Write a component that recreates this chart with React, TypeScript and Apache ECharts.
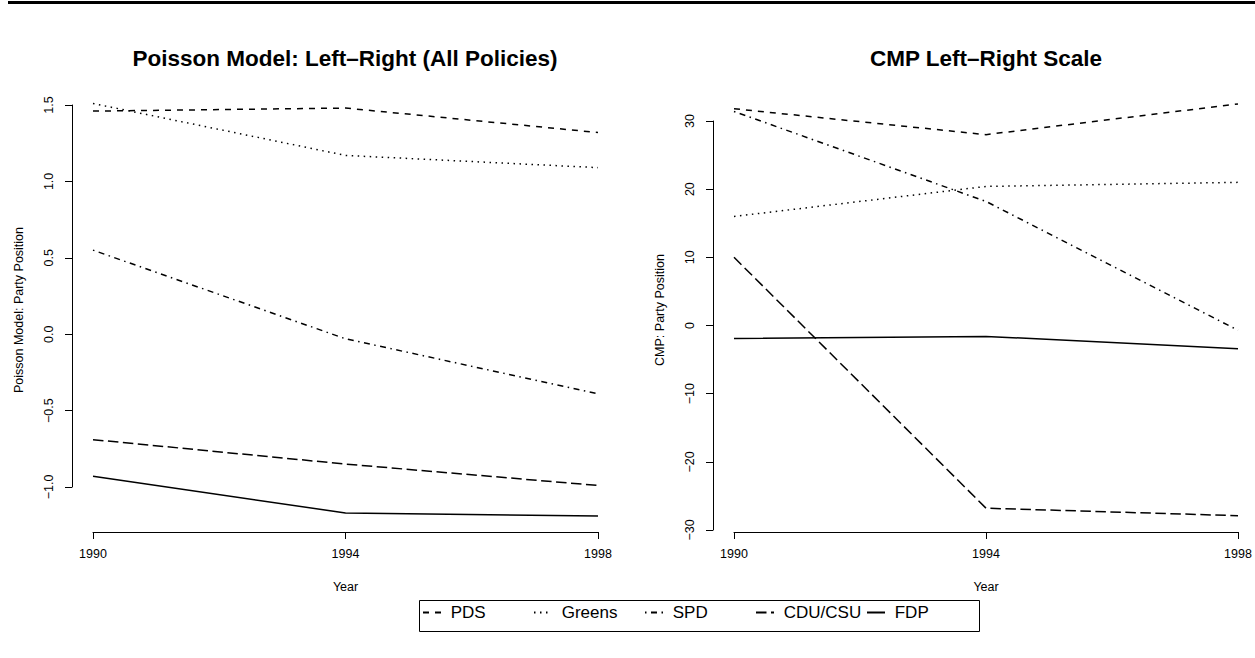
import React, { useEffect, useRef } from "react";
import * as echarts from "echarts";

const years = [1990, 1994, 1998];
const parties = ["PDS", "Greens", "SPD", "CDU/CSU", "FDP"];

const poissonPDS = [1.46, 1.48, 1.32];
const poissonGreens = [1.51, 1.17, 1.09];
const poissonSPD = [0.55, -0.03, -0.39];
const poissonCDU = [-0.69, -0.85, -0.99];
const poissonFDP = [-0.93, -1.17, -1.19];

const cmpPDS = [31.8, 28.0, 32.5];
const cmpGreens = [16.0, 20.4, 21.0];
const cmpSPD = [31.4, 18.2, -0.7];
const cmpCDU = [10.0, -26.8, -27.9];
const cmpFDP = [-1.9, -1.6, -3.4];

const poissonSeries = [poissonPDS, poissonGreens, poissonSPD, poissonCDU, poissonFDP];
const cmpSeries = [cmpPDS, cmpGreens, cmpSPD, cmpCDU, cmpFDP];

const titles = ["Poisson Model: Left\u2013Right (All Policies)", "CMP Left\u2013Right Scale"];
const yNames = ["Poisson Model: Party Position", "CMP: Party Position"];
const xName = "Year";

const dashes: any[] = [[6, 6], [1.5, 4.5], [1.5, 4.5, 6, 4.5], [10.5, 4.5], "solid"];

const FONT = "'Liberation Sans', Arial, Helvetica, sans-serif";
const minus = (s: string) => s.replace("-", "\u2212");

const LEG_LEFT = 417;
const LEG_TOP = 598;
const LEG_W = 560;
const LEG_H = 31;
const LEG_PITCH = 111;

export default function App() {
  const ref = useRef<HTMLDivElement>(null);
  useEffect(() => {
    if (!ref.current) return;
    const chart = echarts.init(ref.current, null, { renderer: "svg" });

    const xAxisBase = (gridIndex: number, offset: number) => ({
      type: "value",
      gridIndex,
      min: 1990,
      max: 1998,
      interval: 4,
      offset,
      name: xName,
      nameLocation: "middle",
      nameGap: 48,
      nameTextStyle: { color: "#000", fontFamily: FONT, fontSize: 12.5 },
      splitLine: { show: false },
      axisLine: { show: true, onZero: false, lineStyle: { color: "#000", width: 1 } },
      axisTick: { show: true, length: 7, lineStyle: { color: "#000", width: 1 } },
      axisLabel: { color: "#000", fontFamily: FONT, fontSize: 12.5, margin: 15, formatter: (v: number) => String(v) },
    });

    const yAxisBase = (gridIndex: number, min: number, max: number, interval: number, dec: number) => ({
      type: "value",
      gridIndex,
      min,
      max,
      interval,
      offset: 21,
      splitLine: { show: false },
      axisLine: { show: true, onZero: false, lineStyle: { color: "#000", width: 1 } },
      axisTick: { show: true, length: 7, lineStyle: { color: "#000", width: 1 } },
      axisLabel: {
        color: "#000",
        fontFamily: FONT,
        fontSize: 12.5,
        rotate: 90,
        margin: 17,
        formatter: (v: number) => minus(v.toFixed(dec)),
      },
    });

    const series: any[] = [];
    parties.forEach((p, i) => {
      [poissonSeries[i], cmpSeries[i]].forEach((vals, g) => {
        series.push({
          name: p,
          type: "line",
          xAxisIndex: g,
          yAxisIndex: g,
          data: years.map((y, k) => [y, vals[k]]),
          symbol: "none",
          clip: false,
          silent: true,
          lineStyle: { color: "#000", width: 1.5, type: dashes[i] },
          itemStyle: { color: "#000" },
        });
      });
    });

    const legends = parties.map((p, i) => ({
      data: [p],
      left: LEG_LEFT + 5 + i * LEG_PITCH,
      top: LEG_TOP + 6,
      orient: "horizontal",
      padding: 0,
      itemGap: 0,
      itemWidth: 18,
      itemHeight: 18,
      selectedMode: false,
      itemStyle: { color: "transparent", borderWidth: 0, opacity: 0 },
      formatter: (name: string) => " " + name,
      textStyle: { color: "#000", fontFamily: FONT, fontSize: 17 },
    }));

    chart.setOption({
      animation: false,
      backgroundColor: "#fff",
      textStyle: { fontFamily: FONT },
      grid: [
        { left: 93, top: 105, width: 505, height: 382 },
        { left: 734, top: 121, width: 504, height: 409 },
      ],
      xAxis: [xAxisBase(0, 45), xAxisBase(1, 2)],
      yAxis: [yAxisBase(0, -1, 1.5, 0.5, 1), yAxisBase(1, -30, 30, 10, 0)],
      legend: legends,
      graphic: [
        { type: "rect", left: 8, top: 1, shape: { width: 1247, height: 3 }, style: { fill: "#000" } },
        {
          type: "rect",
          left: LEG_LEFT,
          top: LEG_TOP,
          shape: { width: LEG_W, height: LEG_H },
          style: { fill: "none", stroke: "#000", lineWidth: 1 },
          silent: true,
        },
        {
          type: "text",
          x: 345,
          y: 58,
          style: { text: titles[0], fontFamily: FONT, fontSize: 22.5, fontWeight: "bold", fill: "#000", align: "center", verticalAlign: "middle" },
        },
        {
          type: "text",
          x: 986,
          y: 58,
          style: { text: titles[1], fontFamily: FONT, fontSize: 22.5, fontWeight: "bold", fill: "#000", align: "center", verticalAlign: "middle" },
        },
        {
          type: "text",
          x: 19,
          y: 310,
          rotation: Math.PI / 2,
          style: { text: yNames[0], fontFamily: FONT, fontSize: 12.5, fill: "#000", align: "center", verticalAlign: "middle" },
        },
        {
          type: "text",
          x: 660,
          y: 310,
          rotation: Math.PI / 2,
          style: { text: yNames[1], fontFamily: FONT, fontSize: 12.5, fill: "#000", align: "center", verticalAlign: "middle" },
        },
      ],
      series,
    });

    return () => chart.dispose();
  }, []);

  return (
    <div
      ref={ref}
      style={{ position: "absolute", left: 0, top: 0, width: 1255, height: 658, background: "#fff" }}
    />
  );
}
